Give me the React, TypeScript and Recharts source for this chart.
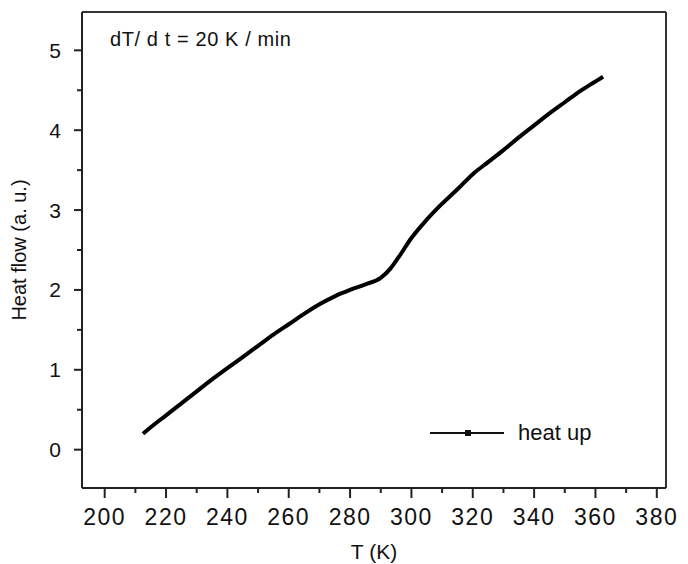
import React from 'react';
import { LineChart, Line, XAxis, YAxis, ReferenceLine } from 'recharts';

const temperature = [
  212.5, 215, 220, 225, 230, 235, 240, 245, 250, 255, 260, 265, 270, 275, 280,
  285, 290, 293, 296, 300, 305, 310, 315, 320, 325, 330, 335, 340, 345, 350,
  355, 360, 362.5,
];
const heatFlow = [
  0.2, 0.28, 0.43, 0.58, 0.73, 0.88, 1.02, 1.16, 1.3, 1.44, 1.57, 1.7, 1.82,
  1.92, 2.0, 2.07, 2.15, 2.26, 2.42, 2.65, 2.88, 3.08, 3.26, 3.45, 3.6, 3.75,
  3.91, 4.06, 4.21, 4.35, 4.49, 4.61, 4.67,
];
const xTicks = [
  200, 210, 220, 230, 240, 250, 260, 270, 280, 290, 300, 310, 320, 330, 340,
  350, 360, 370, 380,
];
const yTicks = [0, 0.5, 1, 1.5, 2, 2.5, 3, 3.5, 4, 4.5, 5];

const xDomain = [192.6, 383];
const yDomain = [-0.48, 5.48];

const data = temperature.map((t, i) => ({ t, hf: heatFlow[i] }));

const FONT = '"Liberation Sans", Arial, sans-serif';
const AXIS = '#222';

const XTick = (props: any) => {
  const { x, y, payload } = props;
  const major = payload.value % 20 === 0;
  return (
    <g>
      <line x1={x} x2={x} y1={y} y2={y + (major ? 10 : 5)} stroke={AXIS} strokeWidth={2} />
      {major && (
        <text x={x} y={y + 37} textAnchor="middle" fontSize={23} letterSpacing={1.5} fontFamily={FONT} fill="#111">
          {payload.value}
        </text>
      )}
    </g>
  );
};

const YTick = (props: any) => {
  const { x, y, payload } = props;
  const major = payload.value % 1 === 0;
  return (
    <g>
      <line x1={x - (major ? 8 : 5)} x2={x} y1={y} y2={y} stroke={AXIS} strokeWidth={2} />
      {major && (
        <text x={x - 21} y={y + 7.5} textAnchor="end" fontSize={21} fontFamily={FONT} fill="#111">
          {payload.value}
        </text>
      )}
    </g>
  );
};

export default function App() {
  return (
    <div style={{ position: 'absolute', left: 0, top: 0, width: 688, height: 564, background: '#fff' }}>
      <LineChart width={688} height={564} data={data} margin={{ top: 12, right: 22, left: 0, bottom: 0 }}>
        <XAxis
          dataKey="t"
          type="number"
          domain={xDomain}
          ticks={xTicks}
          interval={0}
          tick={<XTick />}
          tickSize={0}
          tickMargin={0}
          tickLine={false}
          height={76}
          axisLine={{ stroke: AXIS, strokeWidth: 2 }}
          label={{
            content: () => (
              <text x={374} y={559} textAnchor="middle" fontSize={21} fontFamily={FONT} fill="#111">
                T (K)
              </text>
            ),
          }}
        />
        <YAxis
          type="number"
          domain={yDomain}
          ticks={yTicks}
          interval={0}
          tick={<YTick />}
          tickSize={0}
          tickMargin={0}
          tickLine={false}
          width={82}
          axisLine={{ stroke: AXIS, strokeWidth: 2 }}
          label={{
            content: () => (
              <text x={26} y={250} transform="rotate(-90 26 250)" textAnchor="middle" fontSize={20} fontFamily={FONT} fill="#111">
                Heat flow (a. u.)
              </text>
            ),
          }}
        />
        <ReferenceLine y={yDomain[1]} stroke="#333" strokeWidth={2} />
        <ReferenceLine x={xDomain[1]} stroke="#333" strokeWidth={2} />
        <Line
          dataKey="hf"
          type="monotone"
          stroke="#000"
          strokeWidth={4}
          dot={false}
          isAnimationActive={false}
        />
      </LineChart>
      <div style={{ position: 'absolute', left: 430, top: 420, display: 'flex', alignItems: 'center', fontFamily: FONT, fontSize: 22, color: '#111' }}>
        <svg width={76} height={10} style={{ marginRight: 12 }}>
          <line x1={0} x2={74} y1={5} y2={5} stroke="#111" strokeWidth={2} />
          <rect x={35} y={2} width={6} height={6} fill="#111" />
        </svg>
        <span>heat up</span>
      </div>
      <div style={{ position: 'absolute', left: 110, top: 28, fontFamily: FONT, fontSize: 20, letterSpacing: 0.6, color: '#111', whiteSpace: 'nowrap' }}>
        dT/ d t = 20 K / min
      </div>
    </div>
  );
}
